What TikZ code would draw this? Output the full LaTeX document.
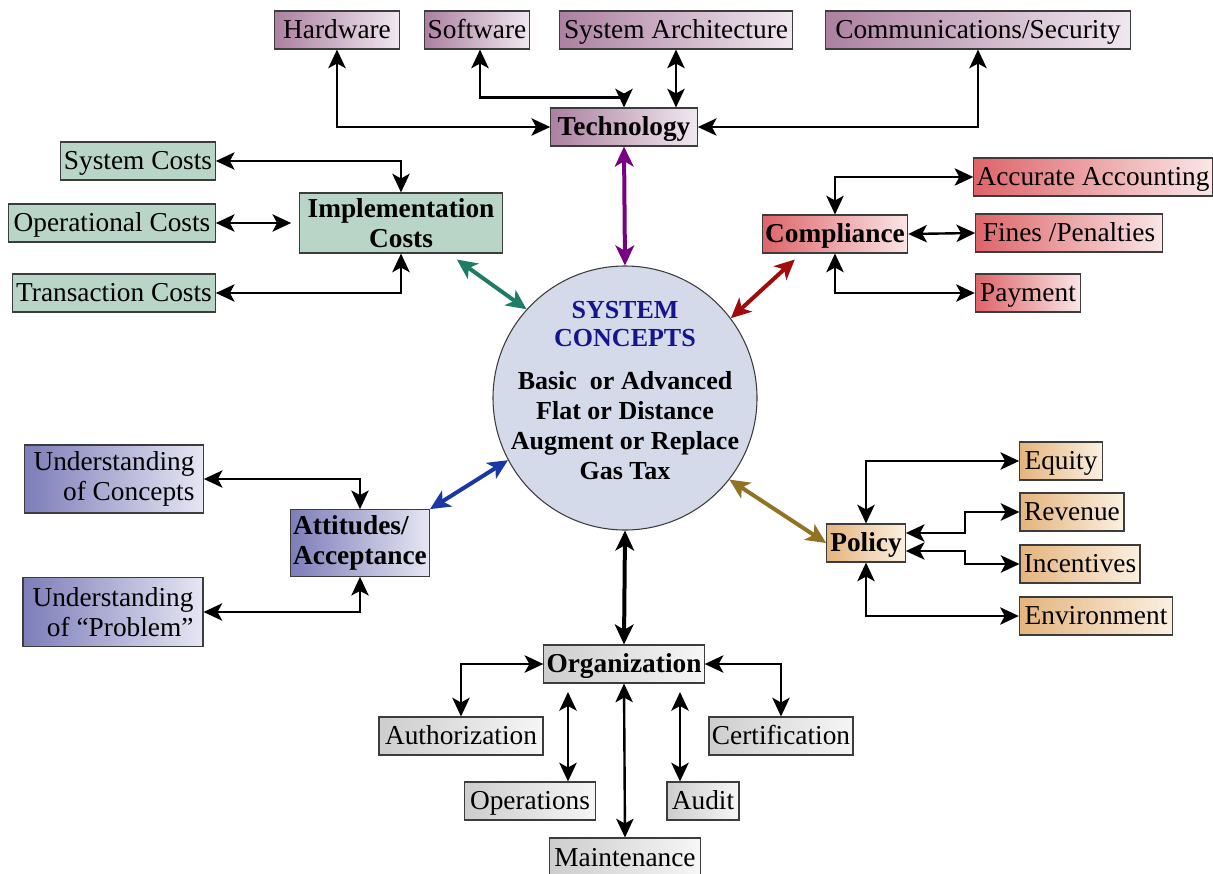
\documentclass[tikz,border=0pt]{standalone}
\usepackage{fontspec}
\setmainfont{Liberation Serif}
\usetikzlibrary{arrows.meta,calc}
\definecolor{techL}{RGB}{172,128,160}
\definecolor{techR}{RGB}{240,232,240}
\definecolor{compL}{RGB}{222,100,105}
\definecolor{compR}{RGB}{250,230,230}
\definecolor{attL}{RGB}{125,125,185}
\definecolor{attR}{RGB}{230,230,244}
\definecolor{polL}{RGB}{228,180,125}
\definecolor{polR}{RGB}{251,240,225}
\definecolor{orgL}{RGB}{205,205,205}
\definecolor{orgR}{RGB}{246,246,246}
\definecolor{implC}{RGB}{184,213,200}
\definecolor{circC}{RGB}{213,218,235}
\definecolor{navyT}{RGB}{20,20,140}
\definecolor{aPurple}{RGB}{120,0,130}
\definecolor{aTeal}{RGB}{30,125,100}
\definecolor{aRed}{RGB}{160,10,10}
\definecolor{aBlue}{RGB}{25,55,165}
\definecolor{aGold}{RGB}{145,115,35}
\definecolor{edgeC}{RGB}{60,60,60}
\tikzset{
  box/.style={draw=edgeC, line width=0.8pt, inner sep=2pt, minimum height=28.5pt,
    text height=16pt, text depth=3pt,
    font=\fontsize{20.5}{22}\selectfont},
  multi/.style={text height=, text depth=},
  techbox/.style={box, left color=techL, right color=techR},
  compbox/.style={box, left color=compL, right color=compR},
  attbox/.style={box, left color=attL, right color=attR},
  polbox/.style={box, left color=polL, right color=polR},
  orgbox/.style={box, left color=orgL, right color=orgR},
  implbox/.style={box, fill=implC},
  hub/.style={font=\bfseries\fontsize{20.5}{22}\selectfont},
  conn/.style={line width=1.8pt, {Stealth[length=14pt,width=13pt,inset=3.5pt]}-{Stealth[length=14pt,width=13pt,inset=3.5pt]}},
  spoke/.style={line width=3pt, {Stealth[length=15pt,width=14pt,inset=4pt]}-{Stealth[length=15pt,width=14pt,inset=4pt]}},
}
\begin{document}
\begin{tikzpicture}[x=0.75pt,y=-0.75pt]
\useasboundingbox (0,0) rectangle (1213,874);
% top
\node[techbox, minimum width=94pt] (hw) at (337,30) {Hardware};
\node[techbox, minimum width=79pt] (sw) at (477,30) {Software};
\node[techbox, minimum width=175pt] (sa) at (676,30) {System Architecture};
\node[techbox, minimum width=229pt] (cs) at (978,30) {Communications/Security};
\node[techbox, hub, minimum width=110pt] (tech) at (624,127) {Technology};
% implementation
\node[implbox, hub, multi, align=center, minimum width=152pt, minimum height=45pt] (impl) at (401,223) {Implementation\\Costs};
\node[implbox, minimum width=116pt] (sc) at (138,161) {System Costs};
\node[implbox, minimum width=155pt] (oc) at (112,223) {Operational Costs};
\node[implbox, minimum width=152pt] (tc) at (114,293) {Transaction Costs};
% compliance
\node[compbox, hub, minimum width=109pt] (comp) at (835,234) {Compliance};
\node[compbox, minimum width=176pt] (acc) at (1093,177) {Accurate Accounting};
\node[compbox, minimum width=140pt] (fines) at (1069,233) {Fines /Penalties};
\node[compbox, minimum width=79pt] (pay) at (1028,293) {Payment};
% circle
\node[circle, draw=edgeC, line width=0.8pt, fill=circC, minimum size=198pt, inner sep=0pt] (sys) at (625,398) {};
\node[font=\bfseries\fontsize{19.5}{21}\selectfont, text=navyT, align=center] (systitle) at (625,324) {SYSTEM\\CONCEPTS};
\node[font=\bfseries\fontsize{19.5}{22.5}\selectfont, align=center] (systext) at (625,426) {Basic\ \ or Advanced\\Flat or Distance\\Augment or Replace\\Gas Tax};
% attitudes
\node[attbox, hub, multi, align=left, minimum width=101pt, minimum height=50pt] (att) at (360,543) {Attitudes/\\Acceptance};
\node[attbox, multi, align=right, minimum width=134pt, minimum height=51pt] (uc) at (114,479) {Understanding\\of Concepts};
\node[attbox, multi, align=right, minimum width=135pt, minimum height=52pt] (up) at (113,612) {Understanding\\of “Problem”};
% policy
\node[polbox, hub, minimum width=59pt] (pol) at (866,543) {Policy};
\node[polbox, minimum width=62pt] (eq) at (1061,461) {Equity};
\node[polbox, minimum width=78pt] (rev) at (1072,512) {Revenue};
\node[polbox, minimum width=90pt] (inc) at (1080,564) {Incentives};
\node[polbox, minimum width=115pt] (env) at (1096,616) {Environment};
% organization
\node[orgbox, hub, minimum width=119pt] (org) at (624,664) {Organization};
\node[orgbox, minimum width=123pt] (auth) at (461,736) {Authorization};
\node[orgbox, minimum width=108pt] (cert) at (781,736) {Certification};
\node[orgbox, minimum width=98pt] (ops) at (530,801) {Operations};
\node[orgbox, minimum width=54pt] (aud) at (703,801) {Audit};
\node[orgbox, minimum width=113pt, minimum height=30pt] (mnt) at (625,858) {Maintenance};

% technology connectors
\draw[conn] (hw.south) |- (tech.west);
\draw[conn] ($(sw.south)+(3,0)$) -- ($(sw.south)+(3,48)$) -| (tech.north);
\draw[conn] (sa.south) -- (sa.south |- tech.north);
\draw[conn] (tech.east) -| (cs.south);
\draw[spoke, aPurple] (tech.south) -- (sys.north);
% implementation
\draw[conn] (sc.east) -| (impl.north);
\draw[conn] (oc.east) -- ([xshift=-6pt]impl.west);
\draw[conn] (tc.east) -| (impl.south);
\draw[spoke, aTeal] ($(impl.south east)+(-46,6)$) -- (sys.138);
% compliance
\draw[conn] (comp.north) |- (acc.west);
\draw[conn] (comp.east) -- (fines.west);
\draw[conn] (comp.south) |- (pay.west);
\draw[spoke, aRed] ($(comp.south west)+(33,6)$) -- (sys.37);
% attitudes
\draw[conn] (uc.east) -| (att.north);
\draw[conn] (up.east) -| (att.south);
\draw[spoke, aBlue] (att.north east) -- (sys.208);
% policy
\draw[conn] (pol.north) |- (eq.west);
\draw[conn] ($(pol.east)+(0,-10)$) -- ($(pol.east)+(59,-10)$) |- (rev.west);
\draw[conn] ($(pol.east)+(0,8)$) -- ($(pol.east)+(59,8)$) |- (inc.west);
\draw[conn] (pol.south) |- (env.west);
\draw[spoke, aGold] (pol.west) -- (sys.-38);
% organization
\draw[spoke, black] (sys.south) -- (org.north);
\draw[conn] (org.west) -| (auth.north);
\draw[conn] (org.east) -| (cert.north);
\draw[conn] (org.south) -- (mnt.north);
\coordinate (opsT) at (568,692);
\coordinate (audT) at (680,692);
\draw[conn] (opsT) -- (opsT |- ops.north);
\draw[conn] (audT) -- (audT |- aud.north);
\end{tikzpicture}
\end{document}
